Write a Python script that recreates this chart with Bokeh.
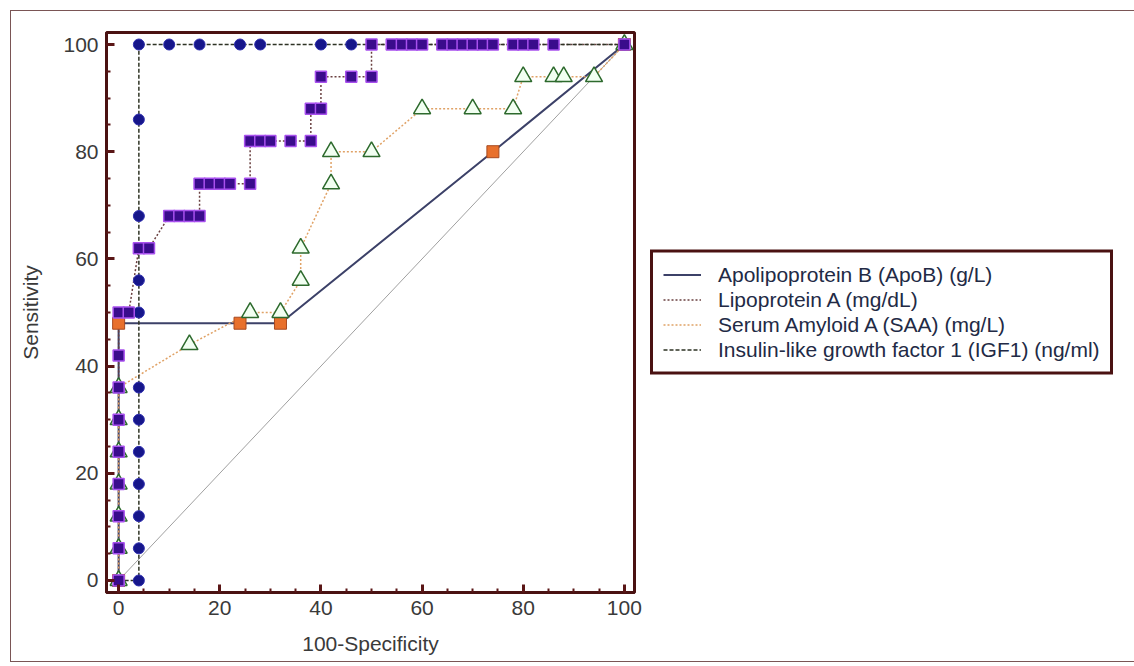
from bokeh.plotting import figure
from bokeh.models import Range1d, SingleIntervalTicker, Legend, LegendItem
from bokeh.embed import file_html
from bokeh.resources import INLINE

# ---------------- data ----------------
apob_x = [0, 0, 24, 32, 74, 100]
apob_y = [0, 48, 48, 48, 80, 100]

lpa_x = [0, 0, 0, 0, 0, 0, 0, 0, 0, 2, 4, 6, 10, 12, 14, 16, 16, 18, 20, 22, 26, 26, 28, 30, 34, 38,
         38, 40, 40, 46, 50, 50, 54, 56, 58, 60, 64, 66, 68, 70, 72, 74, 78, 80, 82, 86, 100]
lpa_y = [0, 6, 12, 18, 24, 30, 36, 42, 50, 50, 62, 62, 68, 68, 68, 68, 74, 74, 74, 74, 74, 82, 82, 82, 82, 82,
         88, 88, 94, 94, 94, 100, 100, 100, 100, 100, 100, 100, 100, 100, 100, 100, 100, 100, 100, 100, 100]

saa_x = [0, 0, 0, 0, 0, 0, 0, 14, 26, 32, 36, 36, 42, 42, 50, 60, 70, 78, 80, 86, 88, 94, 100]
saa_y = [0, 6, 12, 18, 24, 30, 36, 44, 50, 50, 56, 62, 74, 80, 80, 88, 88, 88, 94, 94, 94, 94, 100]

igf_x = [0, 4, 4, 4, 4, 4, 4, 4, 4, 4, 4, 4, 4, 10, 16, 24, 28, 40, 46, 100]
igf_y = [0, 0, 6, 12, 18, 24, 30, 36, 50, 56, 68, 86, 100, 100, 100, 100, 100, 100, 100, 100]

ref_x = [0, 100]
ref_y = [0, 100]

labels = ["Apolipoprotein B (ApoB) (g/L)",
          "Lipoprotein A (mg/dL)",
          "Serum Amyloid A (SAA) (mg/L)",
          "Insulin-like growth factor 1 (IGF1) (ng/ml)"]

FONT = "Liberation Sans"
FRAME = "#4a1212"

p = figure(frame_width=528, frame_height=560,
           x_range=Range1d(-2.4, 102), y_range=Range1d(-2.24, 102.24),
           output_backend="svg", toolbar_location=None,
           min_border_left=95, min_border_right=0,
           min_border_top=21, min_border_bottom=69,
           x_axis_label="100-Specificity", y_axis_label="Sensitivity")
p.styles = {"border": "1px solid #7a5555", "margin-left": "10px", "margin-top": "10px"}
p.background_fill_color = "white"
p.border_fill_color = "white"
p.xgrid.visible = False
p.ygrid.visible = False
p.outline_line_color = FRAME
p.outline_line_width = 3

p.xaxis.ticker = SingleIntervalTicker(interval=20, num_minor_ticks=4)
p.yaxis.ticker = SingleIntervalTicker(interval=20, num_minor_ticks=4)
for ax in (p.xaxis[0], p.yaxis[0]):
    ax.axis_line_color = FRAME
    ax.axis_line_width = 3
    ax.major_tick_in = 8
    ax.major_tick_out = 0
    ax.minor_tick_in = 4
    ax.minor_tick_out = 0
    ax.major_tick_line_color = "#5a1616"
    ax.major_tick_line_width = 3
    ax.minor_tick_line_color = "#5a1616"
    ax.minor_tick_line_width = 2
    ax.major_label_text_font = FONT
    ax.major_label_text_font_size = "21px"
    ax.major_label_text_color = "#3a3a3a"
    ax.major_label_standoff = 8
    ax.axis_label_text_font = FONT
    ax.axis_label_text_font_size = "21px"
    ax.axis_label_text_font_style = "normal"
    ax.axis_label_text_color = "#3a3a3a"
p.xaxis[0].axis_label_standoff = 14
p.yaxis[0].axis_label_standoff = 18

# reference diagonal
p.line(ref_x, ref_y, line_color="#a0a0a0", line_width=1)

# curves
r_apob = p.line(apob_x, apob_y, line_color="#3c4168", line_width=2)
r_lpa = p.line(lpa_x, lpa_y, line_color="#6a4040", line_width=1.5, line_dash="2 2")
r_saa = p.line(saa_x, saa_y, line_color="#e0a266", line_width=1.5, line_dash="2 2")
r_igf = p.line(igf_x, igf_y, line_color="#2e3324", line_width=1.5, line_dash="4 2")

# markers
p.scatter(apob_x, apob_y, marker="square", size=12,
          fill_color="#e8702c", line_color="#a84a20", line_width=1)
p.scatter(saa_x, saa_y, marker="triangle", size=17,
          fill_color="#f2fff2", line_color="#2d6a2d", line_width=1.5)
p.scatter(igf_x, igf_y, marker="circle", size=11,
          fill_color="#16168a", line_color="#3030b0", line_width=1)
p.scatter(lpa_x, lpa_y, marker="square", size=11,
          fill_color="#3a0c8c", line_color="#a850ee", line_width=1.5)

legend = Legend(items=[LegendItem(label=labels[0], renderers=[r_apob]),
                       LegendItem(label=labels[1], renderers=[r_lpa]),
                       LegendItem(label=labels[2], renderers=[r_saa]),
                       LegendItem(label=labels[3], renderers=[r_igf])],
                location="center_left")
legend.label_text_font = FONT
legend.label_text_font_size = "21px"
legend.label_text_color = "#222a45"
legend.label_height = 24
legend.glyph_height = 24
legend.glyph_width = 38
legend.label_standoff = 17
legend.spacing = 1
legend.padding = 10
legend.margin = 16
legend.border_line_color = FRAME
legend.border_line_width = 3
legend.border_line_alpha = 1
legend.background_fill_color = "white"
legend.background_fill_alpha = 1
p.add_layout(legend, "right")

open("out.html", "w").write(file_html(p, INLINE))
